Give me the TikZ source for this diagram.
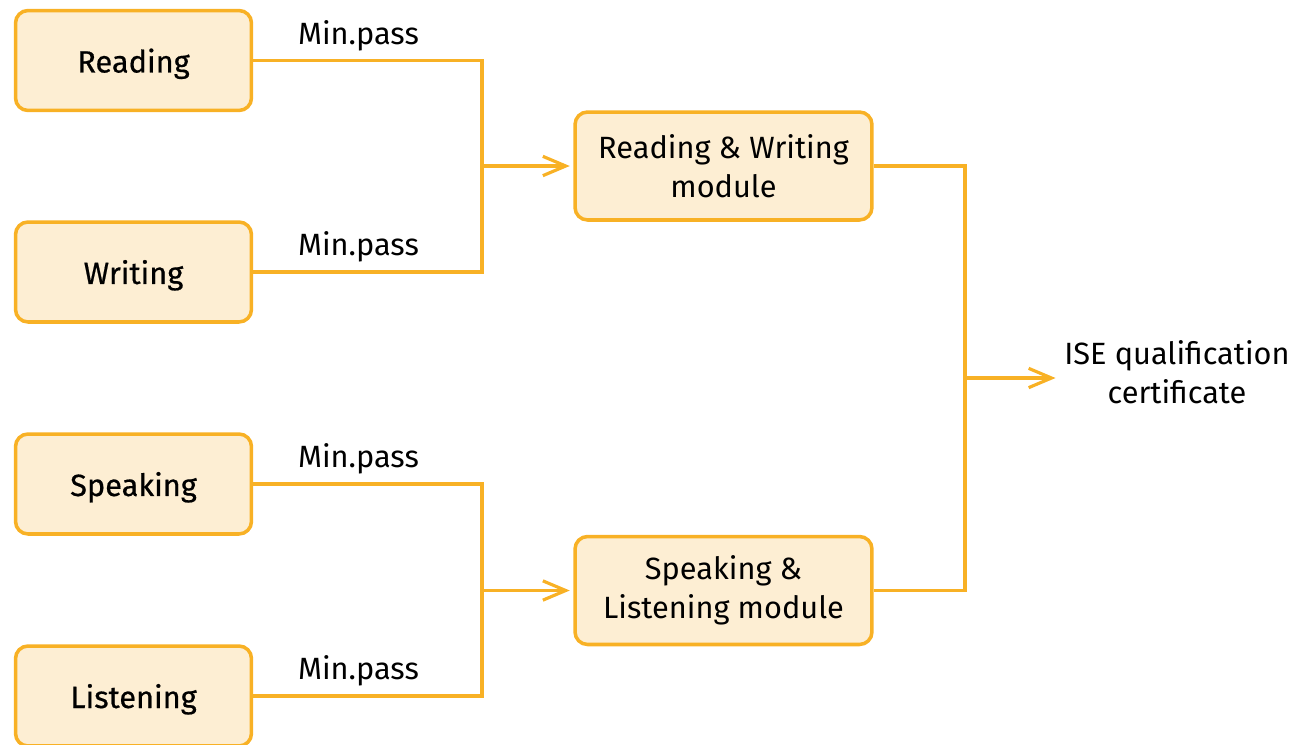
\documentclass[tikz,border=0pt]{standalone}
\usepackage{fontspec}
\setmainfont{Fira Sans}
\newfontfamily\skillfont[FakeBold=0.6]{Fira Sans}
\usetikzlibrary{arrows.meta,positioning}
\definecolor{boxLine}{HTML}{F8B125}
\definecolor{boxFill}{HTML}{FDEED3}
\begin{document}
\begin{tikzpicture}[x=0.02cm,y=-0.02cm,line width=2pt,
		>={Straight Barb[length=13pt,width=11pt,line width=1.8pt]},
		skill/.style={draw=boxLine, fill=boxFill, rounded corners=2.5mm, minimum width=4.72cm, minimum height=2cm, text depth=0pt, font=\skillfont\fontsize{17.5}{22}\selectfont},
		module/.style={draw=boxLine, fill=boxFill, rounded corners=2.5mm, minimum width=5.94cm, minimum height=2.16cm, align=center, font=\fontsize{17.5}{22}\selectfont},
		link/.style={draw=boxLine},
		lab/.style={font=\fontsize{17.5}{22}\selectfont, inner sep=2pt}]
		\useasboundingbox (0,0) rectangle (1312,744);
		\node[skill] (rd) at (133.5, 60.5) {Reading};
		\node[skill] (wr) at (133.5, 272) {Writing};
		\node[skill] (sp) at (133.5, 484) {Speaking};
		\node[skill] (li) at (133.5, 696) {Listening};
		\node[module] (rw) at (723.5, 166) {Reading \& Writing\\module};
		\node[module] (sl) at (723.5, 590.5) {Speaking \&\\Listening module};
		\node[lab, align=center] (ise) at (1177, 372) {ISE qualification\\certificate};
		\coordinate (j1) at (482, 166);
		\coordinate (j2) at (482, 590.5);
		\coordinate (j3) at (965, 378);
		% skills into modules
		\path[link] (rd.east) -| node[lab, pos=0.23, above=2.5pt] {Min.pass} (j1);
		\path[link] (wr.east) -| node[lab, pos=0.23, above=2.5pt] {Min.pass} (j1);
		\path[link] (sp.east) -| node[lab, pos=0.23, above=2.5pt] {Min.pass} (j2);
		\path[link] (li.east) -| node[lab, pos=0.23, above=2.5pt] {Min.pass} (j2);
		\draw[link, ->] (j1) -- ([xshift=-2pt]rw.west);
		\draw[link, ->] (j2) -- ([xshift=-2pt]sl.west);
		% modules into certificate
		\path[link] (rw.east) -| (j3);
		\path[link] (sl.east) -| (j3);
		\draw[link, ->] (j3) -- ([xshift=-2pt]ise.west |- j3);
	\end{tikzpicture}
\end{document}
